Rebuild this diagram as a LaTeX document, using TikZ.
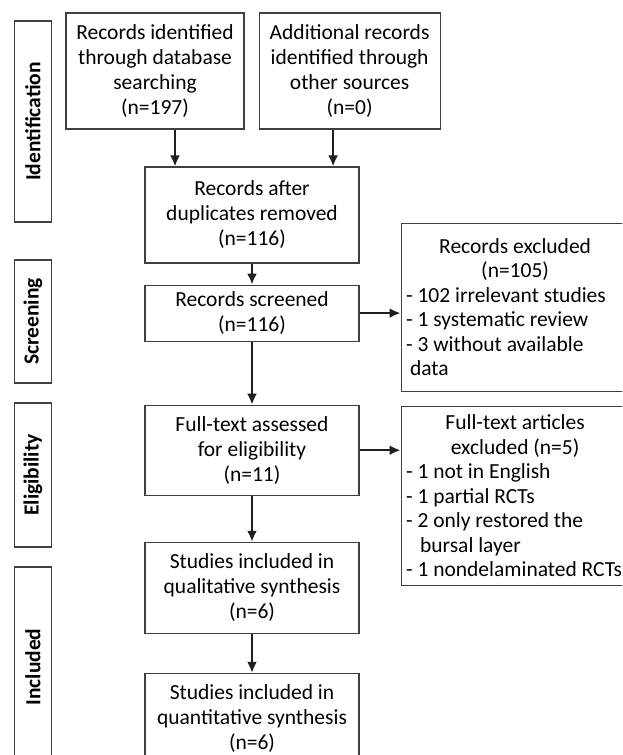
\documentclass[tikz,border=0pt]{standalone}
\usepackage{fontspec}
\setmainfont{Carlito}
\usetikzlibrary{shapes,arrows.meta,positioning}

\begin{document}
\begin{tikzpicture}[x=1pt, y=1pt, node distance=20pt, >={Latex[length=11pt,width=10pt]}]
  \tikzstyle{box} = [draw=black!75, line width=1.1pt, rectangle, align=center, minimum width=214pt, inner sep=3pt, font=\fontsize{21.5}{25}\selectfont]
  \tikzstyle{listbox} = [box, align=flush left, text width=218pt, inner xsep=5pt, inner ysep=2pt, font=\fontsize{21.5}{24.5}\selectfont]
  \tikzstyle{phase} = [draw=black!75, line width=1.1pt, rectangle, rotate=90, minimum height=37pt, inner sep=2pt, font=\bfseries\fontsize{21.5}{24}\selectfont]
  \tikzstyle{arr} = [->, line width=2.4pt, draw=black!88]
  \useasboundingbox (0,0) rectangle (622,-755);
  \clip (0,0) rectangle (622,-755);
  % phases
  \node[phase, minimum width=201pt] (ident) at (33,-121.5) {Identification};
  \node[phase, minimum width=123pt] (screening) at (33,-321.5) {Screening};
  \node[phase, minimum width=144pt] (elig) at (33,-475) {Eligibility};
  \node[phase, minimum width=200pt] (incl) at (33,-667) {Included};
  % flow
  \node[box, minimum width=178pt, minimum height=116pt] (recdb) at (155,-71) {Records identified\\through database\\searching\\(n=197)};
  \node[box, minimum width=181pt, minimum height=116pt, right=14pt of recdb] (recother) {Additional records\\identified through\\other sources\\(n=0)};
  \node[box, minimum height=96pt] (dup) at (252,-215) {Records after\\duplicates removed\\(n=116)};
  \node[box, minimum height=56pt, below=21pt of dup] (screen) {Records screened\\(n=116)};
  \node[box, minimum height=90pt, below=63pt of screen] (full) {Full-text assessed\\for eligibility\\(n=11)};
  \node[box, minimum height=91pt, below=46pt of full] (qual) {Studies included in\\qualitative synthesis\\(n=6)};
  \node[box, minimum height=91pt, below=39pt of qual] (quant) {Studies included in\\quantitative synthesis\\(n=6)};
  \node[listbox, minimum height=168pt, right=41pt of screen, yshift=6pt] (excl) {{\centering Records excluded\\(n=105)\par}
    - 102 irrelevant studies\\
    - 1 systematic review\\
    - 3 without available\\
    \hspace*{4pt}data};
  \node[listbox, minimum height=179pt, below right=1pt and 41pt of full.north east] (ftexcl) {{\centering Full-text articles\\excluded (n=5)\par}
    - 1 not in English\\
    - 1 partial RCTs\\
    - 2 only restored the\\
    \hspace*{14pt}bursal layer\\
    - 1 nondelaminated RCTs};
  % arrows
  \draw[arr] ([xshift=20pt]recdb.south) -- ([xshift=20pt]recdb.south |- dup.north);
  \draw[arr] ([xshift=-16.5pt]recother.south) -- ([xshift=-16.5pt]recother.south |- dup.north);
  \draw[arr] (dup) -- (screen);
  \draw[arr] (screen.east) -- (screen.east -| excl.west);
  \draw[arr] (screen) -- (full);
  \draw[arr] (full.east) -- (full.east -| ftexcl.west);
  \draw[arr] (full) -- (qual);
  \draw[arr] (qual) -- (quant);
\end{tikzpicture}
\end{document}
